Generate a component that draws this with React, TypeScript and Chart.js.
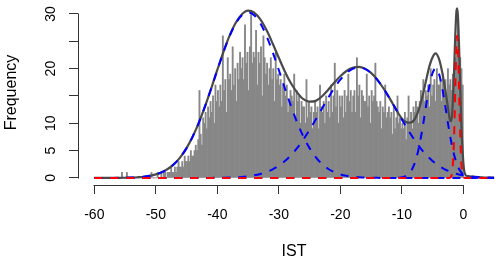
import React, { useEffect, useRef } from 'react';
import { Chart, registerables } from 'chart.js';

Chart.register(...registerables);

// ---- histogram (bin width 0.2, first break at -56) ----
const binStart = -56;
const binWidth = 0.2;
const counts = [
  0, 0, 1, 0, 0, 0, 1, 0, 0, 0,
  0, 0, 0, 0, 0, 0, 0, 0, 0, 0,
  0, 0, 0, 0, 0, 0, 1, 0, 0, 0,
  0, 1, 0, 0, 1, 0, 1, 1, 0, 1,
  1, 1, 2, 1, 1, 2, 1, 2, 3, 2,
  2, 3, 2, 4, 3, 3, 4, 3, 5, 4,
  4, 5, 6, 5, 7, 16, 8, 6, 11, 10,
  12, 9, 13, 11, 14, 12, 15, 10, 17, 14,
  16, 13, 17, 14, 26, 16, 18, 12, 22, 18,
  19, 16, 24, 17, 20, 14, 21, 18, 23, 20,
  22, 18, 28, 21, 23, 16, 24, 30, 21, 23,
  22, 27, 17, 23, 21, 24, 15, 26, 22, 19,
  21, 17, 20, 22, 18, 20, 14, 23, 18, 19,
  17, 18, 13, 17, 19, 15, 17, 12, 14, 16,
  15, 14, 19, 11, 16, 14, 15, 10, 14, 13,
  13, 10, 18, 11, 14, 12, 13, 9, 12, 14,
  12, 13, 9, 17, 13, 12, 14, 10, 15, 12,
  14, 11, 17, 12, 15, 21, 13, 16, 10, 15,
  13, 15, 11, 16, 12, 15, 19, 14, 16, 12,
  15, 16, 12, 22, 15, 17, 11, 16, 15, 14,
  14, 19, 13, 15, 10, 16, 14, 15, 21, 14,
  13, 12, 14, 9, 13, 12, 17, 11, 12, 13,
  11, 12, 8, 13, 9, 11, 15, 10, 11, 9,
  10, 9, 12, 7, 11, 15, 10, 12, 9, 13,
  12, 14, 13, 10, 14, 16, 15, 18, 14, 16,
  15, 17, 13, 20, 15, 17, 18, 14, 20, 17,
  17, 18, 14, 19, 17, 18, 15, 20, 17, 18,
  16, 19, 18, 22, 26, 29, 25, 22, 20, 17,
];

// ---- mixture components 1 and 2 (blue dashed) ----
const gridX = [
  -60, -59, -58, -57, -56, -55, -54, -53, -52, -51, -50, -49, -48, -47, -46, -45, -44, -43, -42, -41,
  -40, -39, -38, -37, -36, -35, -34, -33, -32, -31, -30, -29, -28, -27, -26, -25, -24, -23, -22, -21,
  -20, -19, -18, -17, -16, -15, -14, -13, -12, -11, -10, -9, -8, -7, -6, -5, -4, -3, -2, -1,
  0, 1, 2, 3, 4, 5,
];
const comp1 = [
  0, 0, 0, 0, 0.01, 0.03, 0.06, 0.12, 0.21, 0.38, 0.64, 1.05, 1.67, 2.57, 3.81, 5.45, 7.56, 10.11, 13.08, 16.34,
  19.74, 23.03, 25.97, 28.29, 29.78, 30.3, 29.78, 28.29, 25.97, 23.03, 19.74, 16.34, 13.08, 10.11, 7.56, 5.45, 3.81, 2.57, 1.67, 1.05,
  0.64, 0.38, 0.21, 0.12, 0.06, 0.03, 0.01, 0, 0, 0, 0, 0, 0, 0, 0, 0, 0, 0, 0, 0,
  0, 0, 0, 0, 0, 0,
];
const comp2 = [
  0, 0, 0, 0, 0, 0, 0, 0, 0, 0, 0, 0, 0, 0, 0, 0, 0, 0, 0, 0,
  0.02, 0.04, 0.065, 0.11, 0.18, 0.3, 0.47, 0.72, 1.08, 1.58, 2.24, 3.1, 4.19, 5.5, 7.05, 8.79, 10.68, 12.65, 14.6, 16.41,
  17.97, 19.18, 19.94, 20.2, 19.94, 19.18, 17.97, 16.41, 14.6, 12.65, 10.68, 8.79, 7.05, 5.5, 4.19, 3.1, 2.24, 1.58, 1.08, 0.72,
  0.47, 0.3, 0.18, 0.11, 0.065, 0.04,
];

// ---- mixture component 3 (blue dashed) ----
const comp3X = [
  -60, -12, -11.5, -11, -10.5, -10, -9.5, -9, -8.5, -8, -7.5, -7, -6.5, -6, -5.5, -5, -4.5, -4, -3.5, -3,
  -2.5, -2, -1.5, -1, -0.5, 0, 0.5, 1, 1.5, 2, 5,
];
const comp3 = [
  0, 0, 0, 0.01, 0.04, 0.11, 0.27, 0.6, 1.26, 2.41, 4.22, 6.8, 10.04, 13.59, 16.87, 19.2, 20.05, 19.2, 16.87, 13.59,
  10.04, 6.8, 4.22, 2.41, 1.26, 0.6, 0.27, 0.11, 0.04, 0.01, 0,
];

// ---- mixture component 4 (red dashed) ----
const comp4X = [
  -60, -2.3, -2.2, -2.1, -2, -1.9, -1.8, -1.7, -1.6, -1.5, -1.4, -1.3, -1.2, -1.1, -1, -0.9, -0.8, -0.7, -0.6, -0.5,
  -0.4, -0.3, -0.2, -0.1, 0, 0.1, 0.2, 0.3, 5,
];
const comp4 = [
  0, 0, 0.02, 0.07, 0.2, 0.5, 1.14, 2.38, 4.48, 7.67, 11.9, 16.75, 21.39, 24.76, 26, 24.76, 21.39, 16.75, 11.9, 7.67,
  4.48, 2.38, 1.14, 0.5, 0.2, 0.07, 0.02, 0, 0,
];

// ---- overall density (dark grey solid) ----
const densityX = [
  -60, -59, -58, -57, -56, -55, -54, -53, -52, -51, -50, -49, -48, -47, -46, -45, -44, -43, -42, -41,
  -40, -39, -38, -37, -36, -35, -34, -33, -32, -31, -30, -29, -28, -27, -26, -25, -24, -23, -22, -21,
  -20, -19, -18, -17, -16, -15, -14, -13, -12,
  -11.5, -11, -10.5, -10, -9.5, -9, -8.5, -8, -7.5, -7, -6.5, -6, -5.5, -5, -4.5, -4, -3.5, -3, -2.5,
  -2.4, -2.3, -2.2, -2.1, -2, -1.9, -1.8, -1.7, -1.6, -1.5, -1.4, -1.3, -1.2, -1.1, -1, -0.9, -0.8, -0.7, -0.6, -0.5,
  -0.4, -0.3, -0.2, -0.1, 0, 0.1, 0.2, 0.3, 0.4,
  1, 2, 3, 4, 5,
];
const density = [
  0, 0, 0, 0, 0.01, 0.03, 0.06, 0.12, 0.21, 0.38, 0.64, 1.05, 1.67, 2.57, 3.81, 5.45, 7.56, 10.11, 13.08, 16.34,
  19.76, 23.07, 26.04, 28.4, 29.96, 30.6, 30.25, 29.01, 27.05, 24.61, 21.98, 19.44, 17.27, 15.61, 14.4, 13.95, 14.1, 14.9, 16.1, 17.4,
  18.61, 19.56, 20.15, 20.32, 20.0, 19.21, 17.98, 16.41, 14.6,
  13.63, 12.66, 11.7, 10.9, 10.35, 10.1, 10.15, 10.6, 11.7, 13.4, 15.6, 18.1, 20.5, 22.1, 22.8, 21.9, 19.7, 16.6, 12.9,
  12.1, 11.3, 10.7, 10.4, 10.4, 10.9, 12.02, 13.99, 16.61, 19.73, 23.11, 26.34, 29.0, 30.66, 31.04, 30.02, 27.71, 24.4, 20.5, 16.47,
  12.66, 9.36, 6.68, 4.63, 2.9, 1.7, 1.0, 0.65, 0.48,
  0.3, 0.18, 0.11, 0.065, 0.04,
];

// ---- axes ----
const xTicks = [-60, -50, -40, -30, -20, -10, 0];
const yTicks = [0, 5, 10, 15, 20, 25, 30];
const yTickLabels = ['0', '5', '10', '', '20', '', '30'];

const toPoints = (xs: number[], ys: number[]) => xs.map((x, i) => ({ x, y: ys[i] }));

export default function App() {
  const canvasRef = useRef<HTMLCanvasElement>(null);

  useEffect(() => {
    const canvas = canvasRef.current;
    if (!canvas) return;
    Chart.defaults.font.family = "'Liberation Sans', Arial, Helvetica, sans-serif";

    const histData = counts.map((c, i) => ({ x: binStart + binWidth * (i + 0.5), y: c }));

    const axisLines = {
      id: 'axisLines',
      afterDraw(chart: any) {
        const { ctx, chartArea } = chart;
        const xs = chart.scales.x;
        const ys = chart.scales.y;
        ctx.save();
        ctx.strokeStyle = '#333';
        ctx.lineWidth = 1;
        ctx.beginPath();
        const yb = Math.round(chartArea.bottom) + 0.5;
        ctx.moveTo(Math.round(xs.getPixelForValue(xTicks[0])) - 0.5, yb);
        ctx.lineTo(Math.round(xs.getPixelForValue(xTicks[xTicks.length - 1])) + 0.5, yb);
        const xl = Math.round(chartArea.left) + 0.5;
        ctx.moveTo(xl, Math.round(ys.getPixelForValue(yTicks[0])) + 0.5);
        ctx.lineTo(xl, Math.round(ys.getPixelForValue(yTicks[yTicks.length - 1])) - 0.5);
        ctx.stroke();
        ctx.restore();
      },
    };

    const dashed = { borderWidth: 2, borderDash: [8, 8], pointRadius: 0, fill: false, cubicInterpolationMode: 'monotone' as const };

    const chart = new Chart(canvas, {
      type: 'bar',
      data: {
        datasets: [
          {
            type: 'bar',
            data: histData as any,
            backgroundColor: '#878787',
            borderWidth: 0,
            barPercentage: 1,
            categoryPercentage: 1,
            grouped: false,
            order: 10,
          } as any,
          {
            type: 'line',
            data: toPoints(densityX, density) as any,
            borderColor: '#4a4a4a',
            borderWidth: 2.2,
            pointRadius: 0,
            fill: false,
            cubicInterpolationMode: 'monotone',
            order: 5,
          } as any,
          { type: 'line', data: toPoints(gridX, comp1) as any, borderColor: '#0000ff', ...dashed, order: 3 } as any,
          { type: 'line', data: toPoints(gridX, comp2) as any, borderColor: '#0000ff', ...dashed, order: 3 } as any,
          { type: 'line', data: toPoints(comp3X, comp3) as any, borderColor: '#0000ff', ...dashed, order: 3 } as any,
          { type: 'line', data: toPoints(comp4X, comp4) as any, borderColor: '#ff0000', ...dashed, order: 1 } as any,
        ],
      },
      options: {
        responsive: false,
        maintainAspectRatio: false,
        animation: false,
        devicePixelRatio: 1,
        events: [],
        layout: { padding: 0 },
        plugins: { legend: { display: false }, tooltip: { enabled: false } },
        scales: {
          x: {
            type: 'linear',
            min: -62.65,
            max: 7.59,
            offset: false,
            afterBuildTicks: (s: any) => {
              s.ticks = xTicks.map((v) => ({ value: v }));
            },
            afterFit: (s: any) => {
              s.height = 79;
              s.paddingLeft = 0;
              s.paddingRight = 0;
            },
            border: { display: false },
            grid: { drawOnChartArea: false, drawTicks: true, tickLength: 9, color: '#333', offset: false },
            ticks: {
              color: '#000',
              font: { size: 14 },
              padding: 13,
              maxRotation: 0,
              autoSkip: false,
              callback: (v: any) => String(v),
            },
            title: { display: true, text: 'IST', color: '#000', font: { size: 16 }, padding: { top: 0, bottom: 2.4 } },
          },
          y: {
            type: 'linear',
            min: -1.3,
            max: 32.56,
            afterBuildTicks: (s: any) => {
              s.ticks = yTicks.map((v) => ({ value: v }));
            },
            afterFit: (s: any) => {
              s.width = 78;
              s.paddingTop = 0;
              s.paddingBottom = 0;
            },
            border: { display: false },
            grid: { drawOnChartArea: false, drawTicks: true, tickLength: 9, color: '#333' },
            ticks: {
              color: '#000',
              font: { size: 14 },
              padding: 10.2,
              minRotation: 90,
              maxRotation: 90,
              crossAlign: 'center',
              autoSkip: false,
              callback: (v: any) => {
                const i = yTicks.indexOf(Number(v));
                return i >= 0 ? yTickLabels[i] : '';
              },
            },
            title: { display: true, text: 'Frequency', color: '#000', font: { size: 16 }, padding: { top: 2.4, bottom: 0 } },
          },
        },
      } as any,
      plugins: [axisLines],
    });

    return () => chart.destroy();
  }, []);

  return (
    <div style={{ position: 'fixed', left: 0, top: 0, width: 501, height: 264, overflow: 'hidden', background: '#fff' }}>
      <canvas ref={canvasRef} width={510} height={264} style={{ display: 'block', width: 510, height: 264 }} />
    </div>
  );
}
